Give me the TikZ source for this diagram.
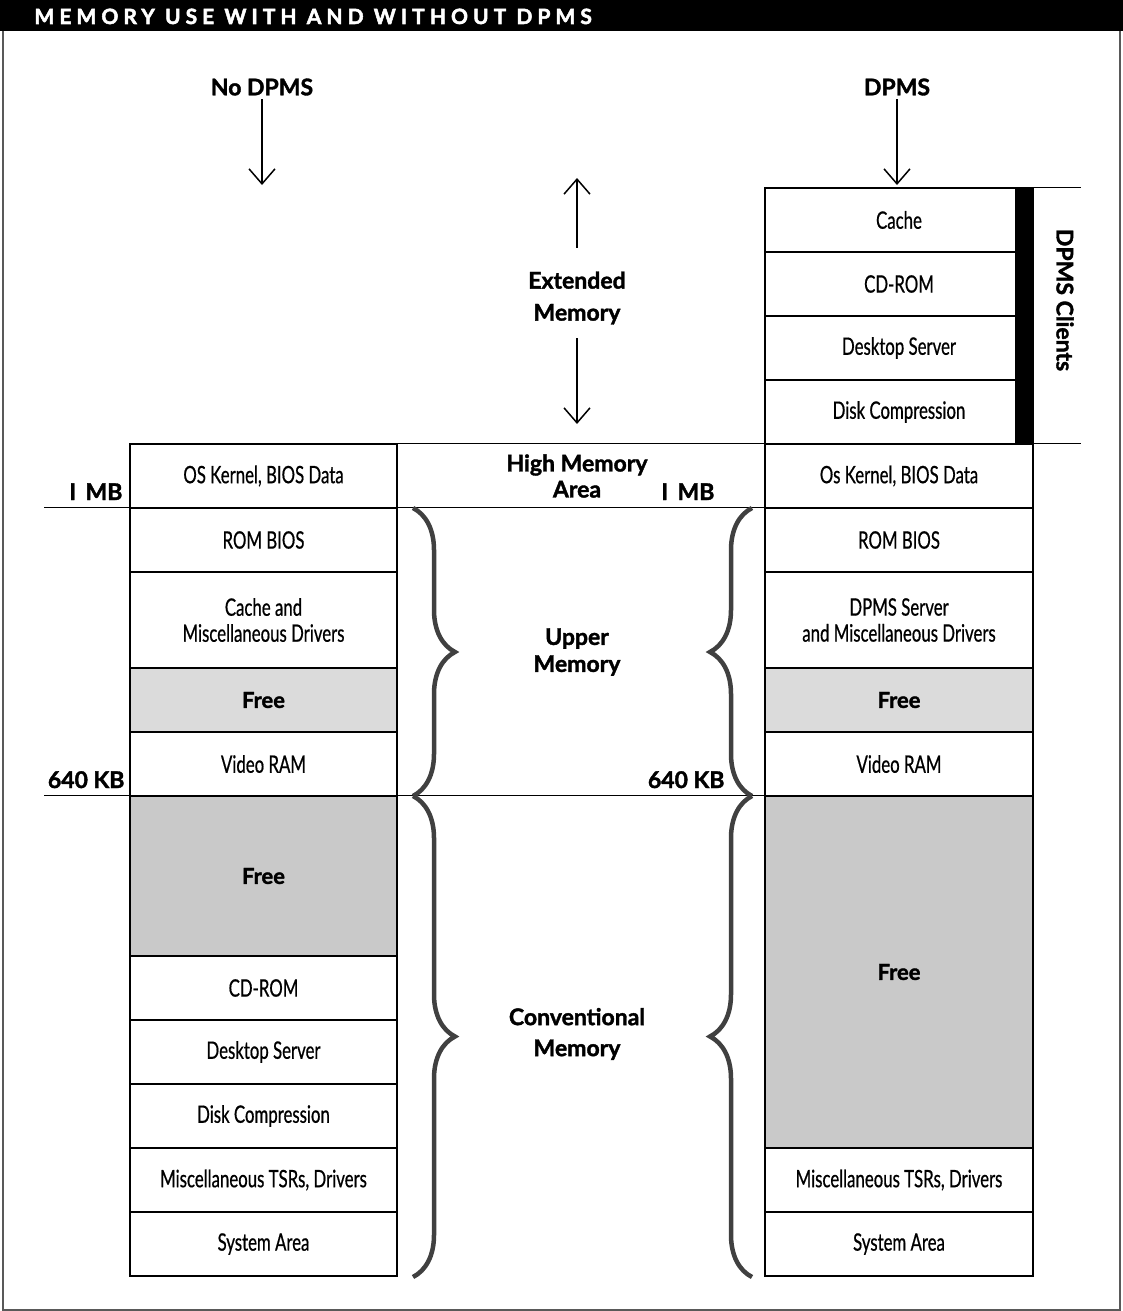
\documentclass[tikz,border=0pt]{standalone}
\usepackage{fontspec}
\setmainfont{Lato}[BoldFeatures={FakeBold=1.6}]
\newfontfamily\narrowfont{Lato}[FakeStretch=0.7, FakeBold=0.6]
\newfontfamily\titlefont{Lato}[LetterSpace=24, BoldFeatures={FakeBold=2.4}]
\usetikzlibrary{
    arrows.meta,
    positioning,
    decorations.pathreplacing
}

\begin{document}
\begin{tikzpicture}[
    x=1pt, y=-1pt,
    mem/.style={
        rectangle,
        draw=black,
        line width=1.2pt,
        fill=white,
        minimum width=267pt,
        minimum height=64pt,
        inner sep=0pt,
        font=\narrowfont\fontsize{24}{26}\selectfont,
        align=center
    },
    freelight/.style={fill=black!14, font=\bfseries\fontsize{22}{26}\selectfont},
    freedark/.style={fill=black!21, font=\bfseries\fontsize{22}{26}\selectfont},
    lab/.style={font=\bfseries\fontsize{23}{27}\selectfont, align=center},
    rule/.style={draw=black, line width=1.2pt},
    down/.style={draw, line width=1.5pt, -{Straight Barb[length=15pt,width=26pt]}},
    brace/.style={draw=black!75, line width=4.5pt, decorate,
        decoration={brace, amplitude=42pt}}
]
\useasboundingbox (0,0) rectangle (1123,1311);

% Frame and title
\draw[black!65, line width=2pt] (3,0) rectangle (1120,1310);
\fill[black] (0,0) rectangle (1123,31);
\node[anchor=base west, text=white, font=\titlefont\bfseries\fontsize{21}{22}\selectfont] (title) at (31,24) {MEMORY USE WITH AND WITHOUT DPMS};

% Headings
\node[lab] (nodpms) at (262,87) {No DPMS};
\node[lab] (dpms) at (897,87) {DPMS};
\coordinate (nodpmsend) at (262,185);
\coordinate (dpmsend) at (897,185);
\draw[down] (nodpms) -- (nodpmsend);
\draw[down] (dpms) -- (dpmsend);

% Extended memory
\node[lab, font=\bfseries\fontsize{23}{32}\selectfont] (ext) at (577,298) {Extended\\Memory};
\coordinate (exttop) at (577,178);
\coordinate (extbot) at (577,424);
\draw[down, shorten <=20pt] (ext) -- (exttop);
\draw[down, shorten <=10pt] (ext) -- (extbot);

% Left stack: no DPMS
\node[mem] (lkern) at (263.5,476) {OS Kernel, BIOS Data};
\node[mem] (lrom) at (263.5,540) {ROM BIOS};
\node[mem, minimum height=96pt] (lcache) at (263.5,620) {Cache and\\Miscellaneous Drivers};
\node[mem, freelight] (lfree) at (263.5,700) {Free};
\node[mem] (lvideo) at (263.5,764) {Video RAM};
\node[mem, freedark, minimum height=160pt] (lconv) at (263.5,876) {Free};
\node[mem] (lcd) at (263.5,988) {CD-ROM};
\node[mem] (ldesk) at (263.5,1052) {Desktop Server};
\node[mem] (ldisk) at (263.5,1116) {Disk Compression};
\node[mem] (lmisc) at (263.5,1180) {Miscellaneous TSRs, Drivers};
\node[mem] (lsys) at (263.5,1244) {System Area};

% Right stack: DPMS
\node[mem, minimum width=268pt] (rcache) at (899,220) {Cache};
\node[mem, minimum width=268pt] (rcd) at (899,284) {CD-ROM};
\node[mem, minimum width=268pt] (rdesk) at (899,348) {Desktop Server};
\node[mem, minimum width=268pt] (rdisk) at (899,412) {Disk Compression};
\node[mem, minimum width=268pt] (rkern) at (899,476) {Os Kernel, BIOS Data};
\node[mem, minimum width=268pt] (rrom) at (899,540) {ROM BIOS};
\node[mem, minimum width=268pt, minimum height=96pt] (rserver) at (899,620) {DPMS Server\\and Miscellaneous Drivers};
\node[mem, minimum width=268pt, freelight] (rfree) at (899,700) {Free};
\node[mem, minimum width=268pt] (rvideo) at (899,764) {Video RAM};
\node[mem, minimum width=268pt, freedark, minimum height=352pt] (rconv) at (899,972) {Free};
\node[mem, minimum width=268pt] (rmisc) at (899,1180) {Miscellaneous TSRs, Drivers};
\node[mem, minimum width=268pt] (rsys) at (899,1244) {System Area};

% DPMS clients bar
\node[fill=black, minimum width=18pt, minimum height=256pt, inner sep=0pt] (bar) at (1024,316) {};
\node[lab, rotate=-90] (clients) at (1065,300) {DPMS Clients};

% High memory area
\node[mem, minimum width=368pt, draw=none, fill=none, font=\bfseries\fontsize{23}{26}\selectfont] (hma) at (577,476) {High Memory\\Area};

% Boundary lines
\draw[rule] (lkern.north east) -- (rkern.north west);
\draw[rule] (rkern.north east) -- ++(47,0);
\draw[rule] (rcache.north east) -- ++(47,0);
\draw[rule] (lrom.north west) -- ++(-85,0);
\draw[rule] (lrom.north east) -- (rrom.north west);
\draw[rule] (lconv.north west) -- ++(-85,0);
\draw[rule] (lconv.north east) -- (rconv.north west);

% Address marks
\node[lab, anchor=base east] (lonemb) at (126,500) {I\, MB};
\node[lab, anchor=base east] (l640) at (128,788) {640 KB};
\node[lab, anchor=base east] (ronemb) at (718,500) {I\, MB};
\node[lab, anchor=base east] (r640) at (728,788) {640 KB};

% Braces
\draw[brace] (413,508) -- (413,796);
\draw[brace] (413,796) -- (413,1277);
\draw[brace] (752,796) -- (752,508);
\draw[brace] (752,1277) -- (752,796);
\node[lab] (upper) at (577,652) {Upper\\Memory};
\node[lab, font=\bfseries\fontsize{23}{31}\selectfont] (conv) at (577,1034) {Conventional\\Memory};

\end{tikzpicture}
\end{document}
